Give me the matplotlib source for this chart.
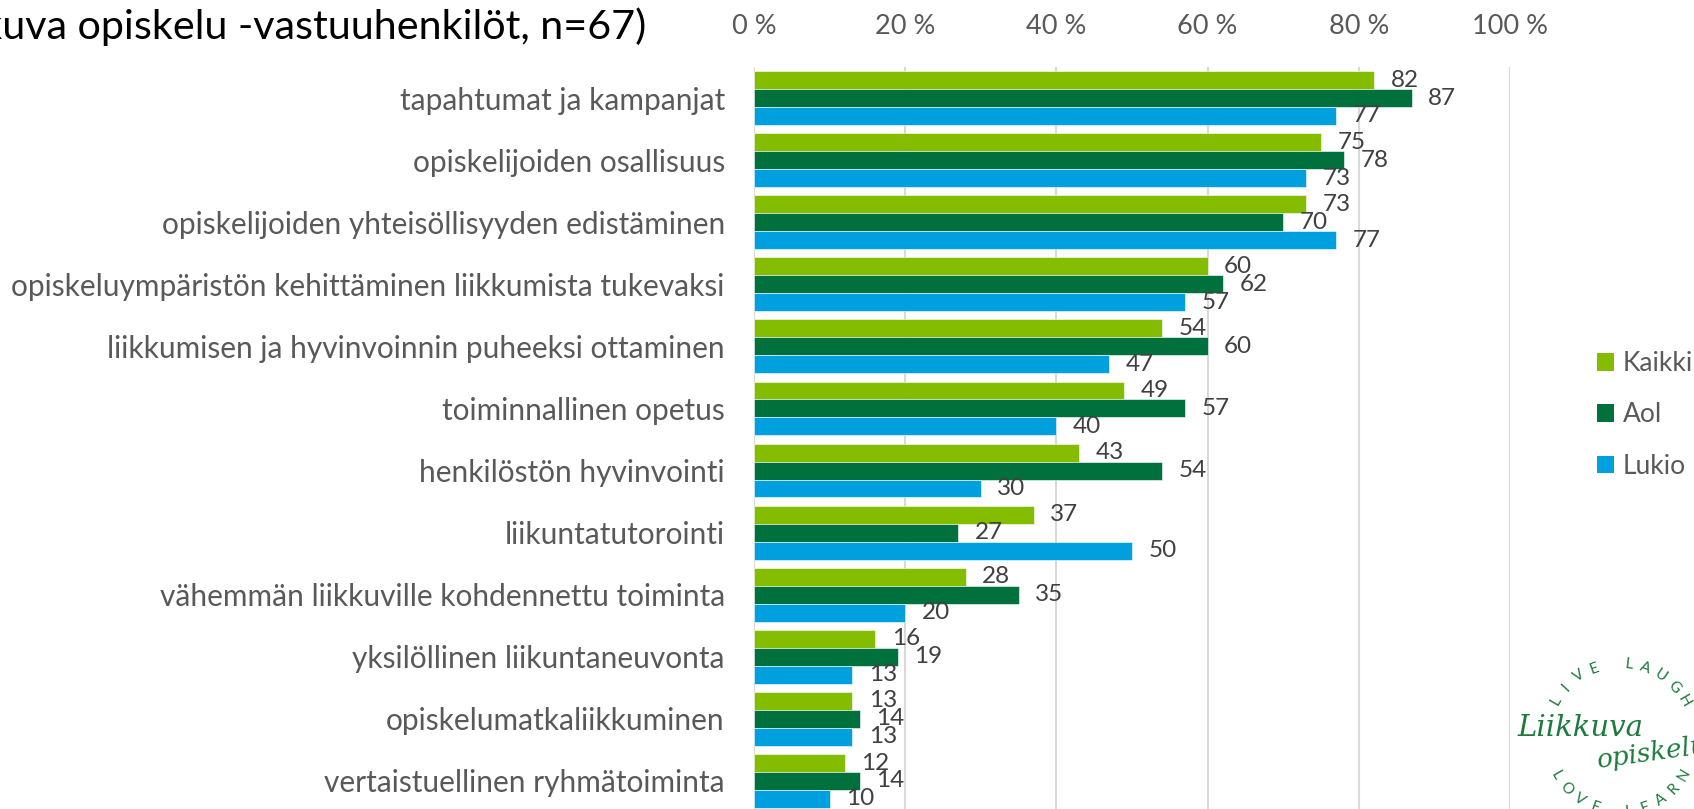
import numpy as np
import matplotlib
matplotlib.use('Agg')
import matplotlib.pyplot as plt
from matplotlib.patches import Patch

plt.rcParams['font.family'] = ['Lato', 'DejaVu Sans']

# ---- data ----
categories = [
    'tapahtumat ja kampanjat',
    'opiskelijoiden osallisuus',
    'opiskelijoiden yhteisöllisyyden edistäminen',
    'opiskeluympäristön kehittäminen liikkumista tukevaksi',
    'liikkumisen ja hyvinvoinnin puheeksi ottaminen',
    'toiminnallinen opetus',
    'henkilöstön hyvinvointi',
    'liikuntatutorointi',
    'vähemmän liikkuville kohdennettu toiminta',
    'yksilöllinen liikuntaneuvonta',
    'opiskelumatkaliikkuminen',
    'vertaistuellinen ryhmätoiminta',
]
kaikki = [82, 75, 73, 60, 54, 49, 43, 37, 28, 16, 13, 12]
aol = [87, 78, 70, 62, 60, 57, 54, 27, 35, 19, 14, 14]
lukio = [77, 73, 77, 57, 47, 40, 30, 50, 20, 13, 13, 10]
series_names = ['Kaikki', 'Aol', 'Lukio']
colors = ['#84bd00', '#00703c', '#00a0df']
x_ticks = [0, 20, 40, 60, 80, 100]
title = '(Liikkuva opiskelu -vastuuhenkilöt, n=67)'

W, H = 1694, 809
fig = plt.figure(figsize=(W / 100, H / 100), dpi=100)
ax = fig.add_axes([754 / W, 1 - 812 / H, (1510 - 754) / W, (812 - 67) / H])

y = np.arange(len(categories))
h = 0.289
series = [kaikki, aol, lukio]
for i, (vals, col) in enumerate(zip(series, colors)):
    pos = y + (i - 1) * h
    ax.barh(pos, vals, height=h, color=col, edgecolor='white', linewidth=0.4, zorder=2)
    for p, v in zip(pos, vals):
        ax.text(v + 2.2, p, str(v), va='center', ha='left', fontsize=17.5, color='#404040')

ax.set_xlim(0, 100)
ax.set_ylim(len(categories) - 0.5, -0.5)
ax.xaxis.tick_top()
ax.set_xticks(x_ticks)
ax.set_xticklabels(['%d %%' % t for t in x_ticks])
ax.set_yticks(y)
ax.set_yticklabels(categories)
ax.tick_params(axis='x', length=0, pad=20, labelsize=19.5, labelcolor='#595959')
ax.tick_params(axis='y', length=0, pad=21, labelsize=21.5, labelcolor='#595959')
ax.grid(axis='x', color='#d9d9d9', linewidth=1.5, zorder=0)
for s in ax.spines.values():
    s.set_visible(False)

# title, cut at the left edge like in the original
fig.text(646 / W, 1 - 27 / H, title, ha='right', va='center', fontsize=29.7, color='black')

# legend
handles = [Patch(facecolor=c, edgecolor='none') for c in colors]
fig.legend(handles, series_names, loc='center left', bbox_to_anchor=(1586 / W, 1 - 415 / H),
           frameon=False, fontsize=19, labelcolor='#595959', handlelength=0.65,
           handleheight=0.65, handletextpad=0.35, labelspacing=1.0, borderaxespad=0)

# logo approximation
logo_col = '#1d7a3d'
cx, cy, r = 1620, 738, 74
for text, a0, a1, top in [('LIVE LAUGH', 150, 30, True), ('LOVE LEARN', 210, 330, False)]:
    angs = np.linspace(a0, a1, len(text))
    for ch, a in zip(text, angs):
        if ch == ' ':
            continue
        px = cx + r * np.cos(np.radians(a))
        py = cy - r * np.sin(np.radians(a))
        rot = a - 90 if top else a + 90
        fig.text(px / W, 1 - py / H, ch, ha='center', va='center', rotation=rot,
                 fontsize=11, color=logo_col)
fig.text(1580 / W, 1 - 728 / H, 'Liikkuva', ha='center', va='center', fontsize=21,
         style='italic', family='DejaVu Serif', color=logo_col)
fig.text(1652 / W, 1 - 753 / H, 'opiskelu', ha='center', va='center', fontsize=19,
         style='italic', family='DejaVu Serif', color=logo_col, rotation=8)

fig.savefig('out.png', dpi=100)
